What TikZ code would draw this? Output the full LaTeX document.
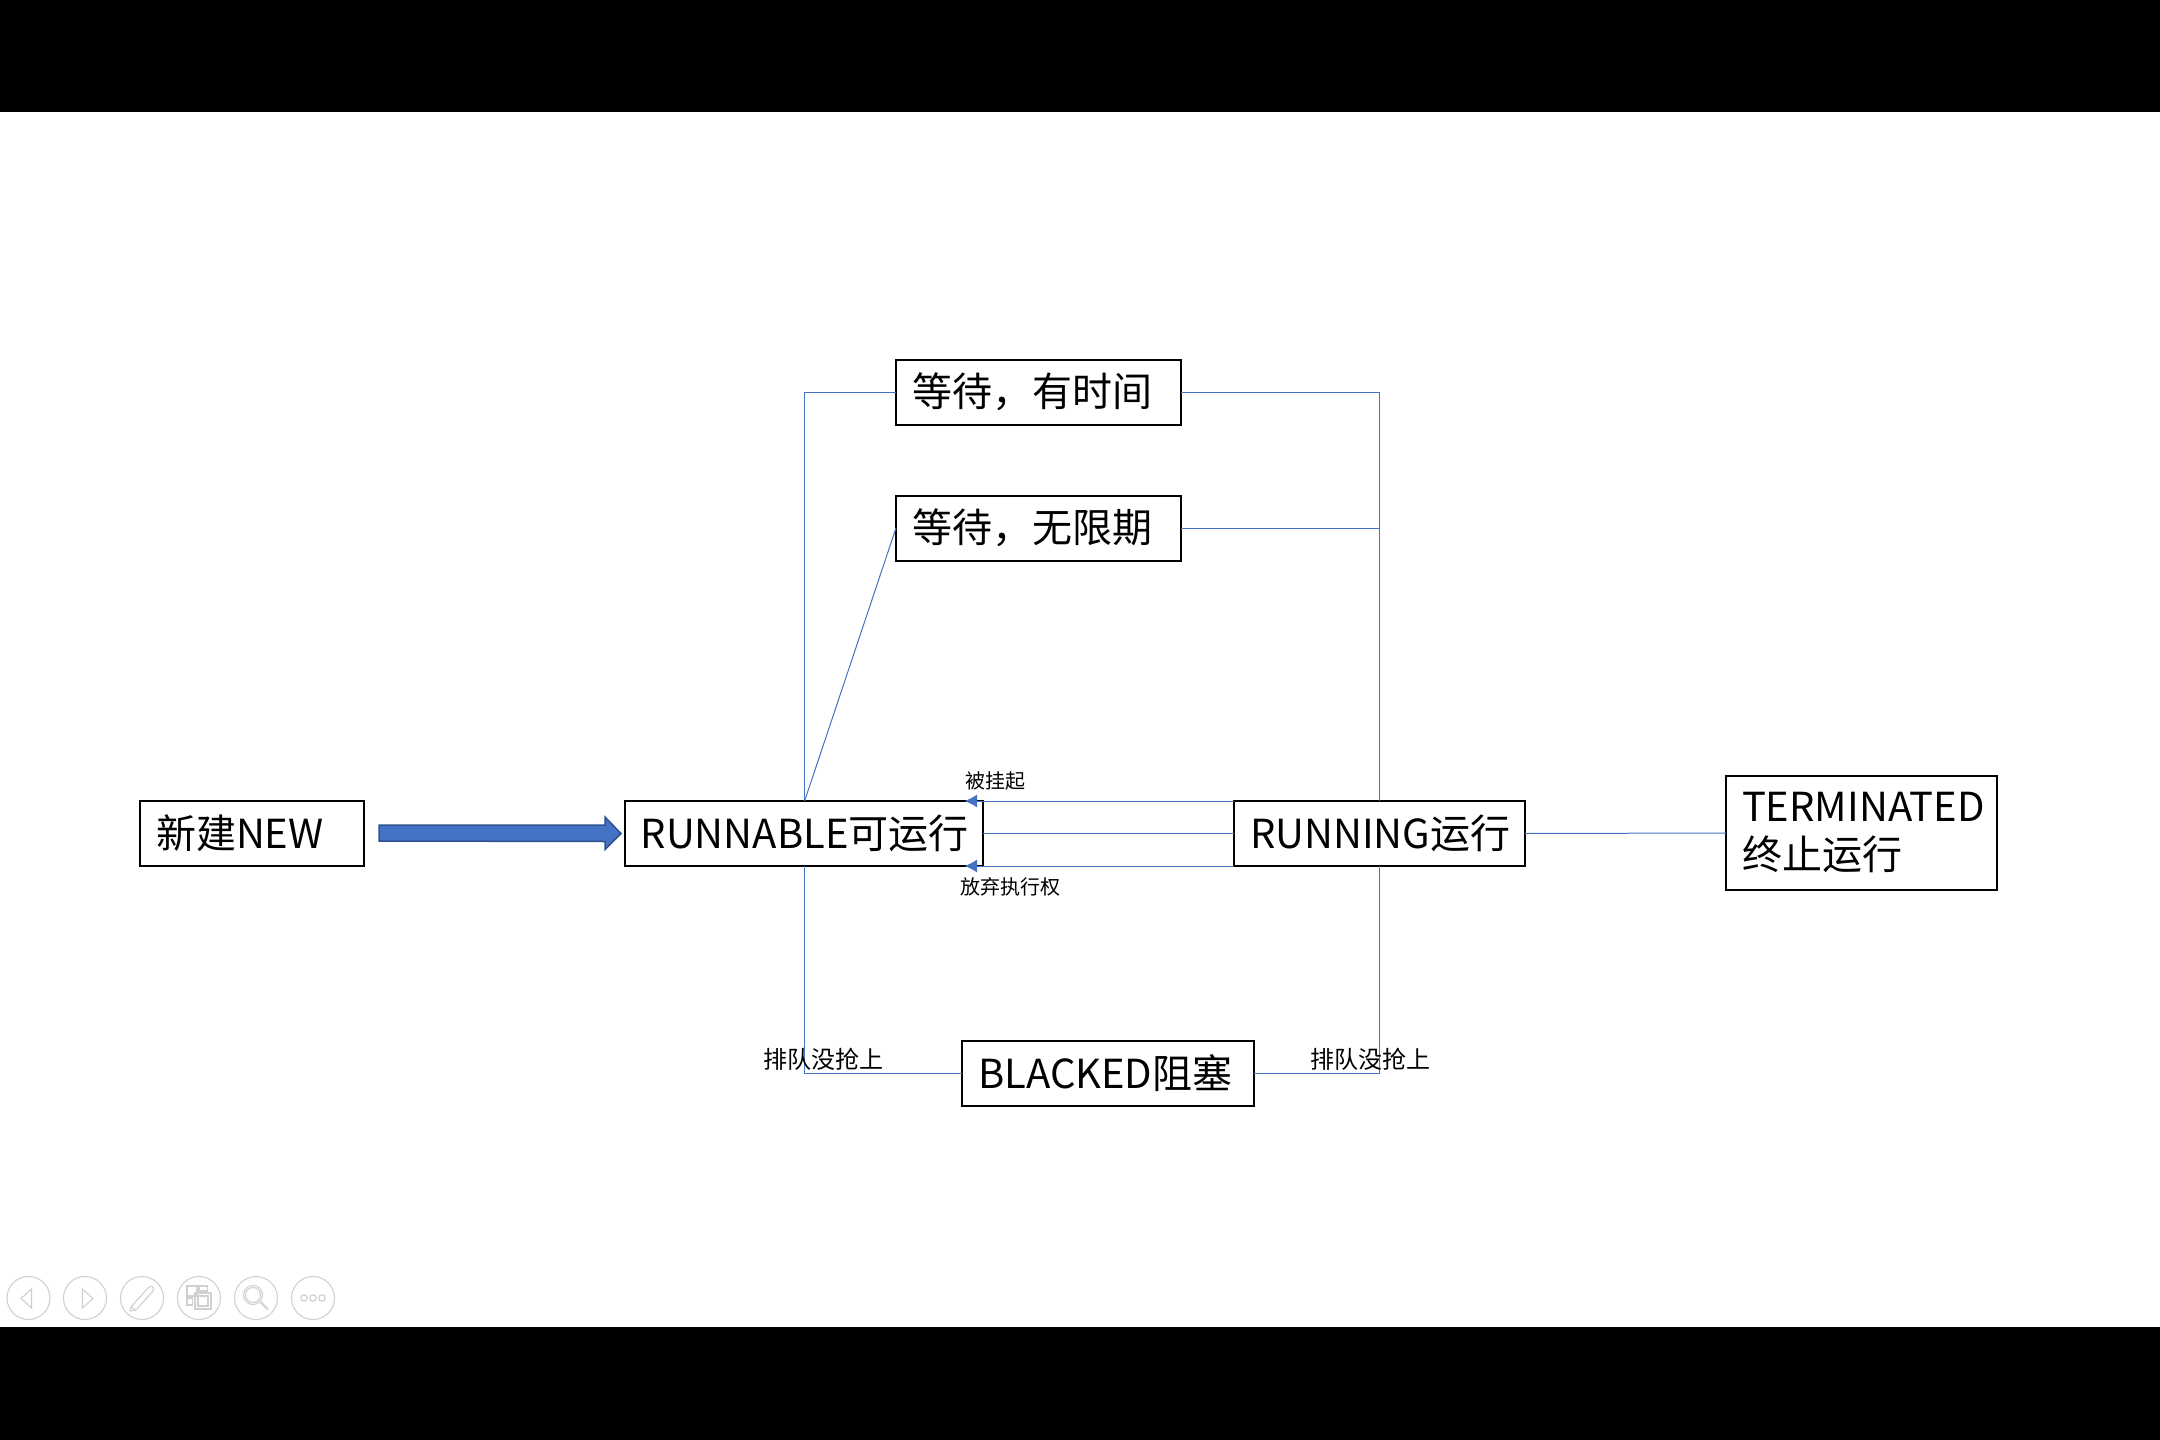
\documentclass[tikz,border=0pt]{standalone}
\usepackage{fontspec}
\setmainfont{Noto Sans CJK SC}
\usetikzlibrary{arrows.meta,calc}
\definecolor{flow}{HTML}{4472C4}
\definecolor{flowedge}{HTML}{2F528F}
\definecolor{icon}{HTML}{D0D0D0}
\tikzset{
  statebox/.style={draw=black,line width=1pt,fill=white,inner xsep=8pt,inner ysep=0pt,outer sep=0pt,align=left,font=\fontsize{20}{24}\selectfont},
  link/.style={draw=flow,line width=0.5pt},
  linkhead/.style={link,-{Latex[length=6.2pt,width=6.5pt]}},
  bigarrow/.style={fill=flow,draw=flowedge,line width=0.75pt},
  biglabel/.style={inner sep=0pt,font=\fontsize{12}{14}\selectfont},
  smalllabel/.style={inner sep=0pt,font=\fontsize{10}{12}\selectfont},
  iconline/.style={draw=icon,line width=0.55pt}
}
\begin{document}
\begin{tikzpicture}[x=0.5pt,y=-0.5pt]
\useasboundingbox (0,0) rectangle (2160,1440);
\fill[black] (0,0) rectangle (2160,1440);
\fill[white] (0,111.5) rectangle (2160,1327);
% state boxes
\node[statebox,minimum width=112pt,minimum height=32.5pt,text width=96pt] (n) at (252,833.5) {新建NEW};
\node[statebox,minimum width=179pt,minimum height=32.5pt,text width=163pt] (r) at (803.6,833.5) {RUNNABLE可运行};
\node[statebox,minimum width=145.5pt,minimum height=32.5pt,text width=129.5pt] (g) at (1379.5,833.5) {RUNNING运行};
\node[statebox,minimum width=135.5pt,minimum height=57pt,text width=119.5pt] (e) at (1861.5,833) {TERMINATED\\终止运行};
\node[statebox,minimum width=142.5pt,minimum height=32.5pt,text width=126.5pt] (t) at (1038.5,392) {等待，有时间};
\node[statebox,minimum width=142.5pt,minimum height=32.5pt,text width=126.5pt] (w) at (1038.5,528) {等待，无限期};
\node[statebox,minimum width=146pt,minimum height=32.5pt,text width=130pt] (b) at (1108,1073.5) {BLACKED阻塞};
% connectors
\draw[bigarrow] ($(n.east)+(15,-8.5)$) -- ++(226,0) -- ++(0,-8) -- ($(r.west)+(-3.6,0)$) -- ++(-16,16) -- ++(0,-8) -- ($(n.east)+(15,7.5)$) -- cycle;
\draw[link] (t.west) -| ($(r.north)+(1,0)$);
\draw[link] (w.west) -- ($(r.north)+(1,0)$ |- w.west);
\draw[link] (t.east) -| (g.north);
\draw[link] (w.east) -- (g.north |- w.east);
\draw[link] (b.west) -| ($(r.south)+(1,0)$);
\draw[link] (b.east) -| (g.south);
\coordinate (upEnd) at ($(r.north east)+(-18,0)$);
\coordinate (lowEnd) at ($(r.south east)+(-18,0)$);
\draw[linkhead] (g.north west) -- (upEnd);
\draw[link] (g.west) -- (r.east);
\draw[linkhead] (g.south west) -- (lowEnd);
\draw[link] (g.east) -- (e.west);
% labels
\node[smalllabel,anchor=west] (l1) at (965,780.5) {被挂起};
\node[smalllabel,anchor=west] (l2) at (960,886.5) {放弃执行权};
\node[biglabel,anchor=west] (l3) at (763.5,1059) {排队没抢上};
\node[biglabel,anchor=west] (l4) at (1310,1059) {排队没抢上};
% slide-show toolbar
\foreach \cx in {28.5,85,142,199,256,313} \draw[iconline] (\cx,1298) circle (21.5);
\draw[iconline] (31.5,1289) -- (21,1298.5) -- (31.5,1308) -- cycle;
\draw[iconline] (82.5,1289) -- (93,1298.5) -- (82.5,1308) -- cycle;
\draw[iconline,line join=round] (131,1307) -- (148,1288) .. controls (151,1284.5) and (155,1287) .. (153,1291) -- (136,1310) -- cycle;
\draw[iconline] (131,1307) -- (130,1311) -- (136,1310);
\draw[iconline] (187,1286) rectangle (197,1296);
\draw[iconline] (199,1286) rectangle (207.5,1291);
\draw[iconline] (187,1298) rectangle (192.5,1305);
\draw[iconline] (195,1293) rectangle (211,1309);
\draw[iconline] (198,1296) rectangle (208,1306);
\draw[iconline] (253,1295) circle (9.5);
\draw[iconline] (253,1295) circle (7.5);
\draw[iconline,line width=1pt] (260.5,1302) -- (268,1309.5);
\foreach \dx in {304,313,322} \draw[iconline] (\dx,1298) circle (3.2);
\end{tikzpicture}
\end{document}
